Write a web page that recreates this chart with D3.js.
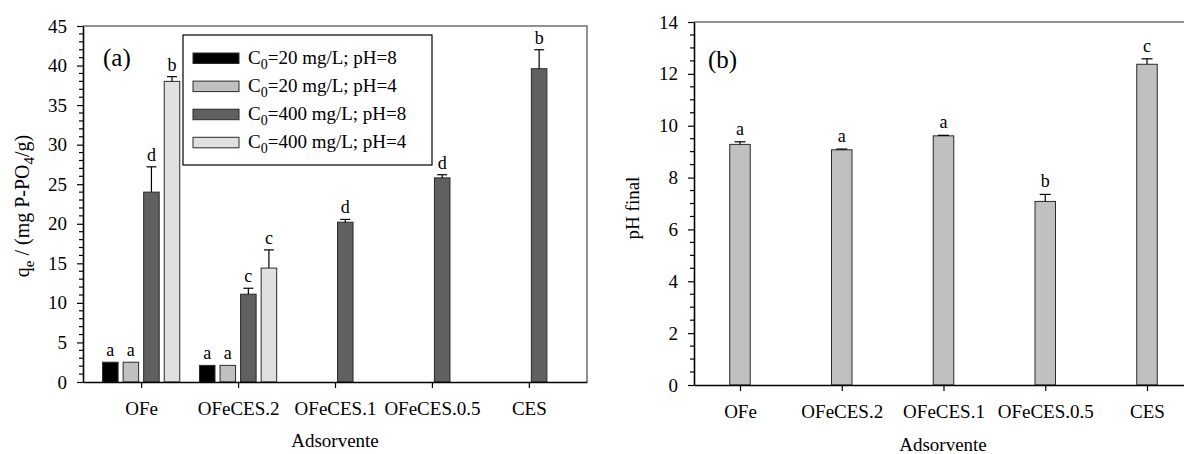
<!DOCTYPE html>
<html>
<head>
<meta charset="utf-8">
<script src="https://cdn.jsdelivr.net/npm/d3@7"></script>
<style>
  html, body { margin: 0; padding: 0; background: #fff; }
  svg { display: block; font-family: "Liberation Serif", "Times New Roman", serif; }
</style>
</head>
<body>
<svg id="fig" width="1184" height="454"></svg>
<script>
// Adsorbent materials (shared by both panels)
const categories = ["OFe", "OFeCES.2", "OFeCES.1", "OFeCES.0.5", "CES"];

// Panel (a): adsorption capacity qe (mg P-PO4/g), four test conditions
const seriesConc = [20, 20, 400, 400];
const seriesPH = [8, 4, 8, 4];
const qe20pH8 = [2.5, 2.1, null, null, null];
const qe20pH4 = [2.5, 2.1, null, null, null];
const qe400pH8 = [24.0, 11.1, 20.2, 25.8, 39.6];
const qe400pH4 = [38.0, 14.4, null, null, null];
const err20pH8 = [0, 0, null, null, null];
const err20pH4 = [0, 0, null, null, null];
const err400pH8 = [3.2, 0.75, 0.35, 0.4, 2.4];
const err400pH4 = [0.6, 2.3, null, null, null];
const let20pH8 = ["a", "a", null, null, null];
const let20pH4 = ["a", "a", null, null, null];
const let400pH8 = ["d", "c", "d", "d", "b"];
const let400pH4 = ["b", "c", null, null, null];
const seriesFill = ["#000000", "#c0c0c0", "#606060", "#e0e0e0"];

// Panel (b): final pH
const phFinal = [9.28, 9.07, 9.61, 7.08, 12.37];
const phErr = [0.1, 0.03, 0.02, 0.27, 0.21];
const phLetters = ["a", "a", "a", "b", "c"];

// Axis ticks
const qeTicks = [0, 5, 10, 15, 20, 25, 30, 35, 40, 45];
const phTicks = [0, 2, 4, 6, 8, 10, 12, 14];

const svg = d3.select("#fig");
const FS = 19;

function frame(g, x0, x1, y0, y1) {
  // top & right border in gray, axes in black
  g.append("path")
    .attr("d", `M${x0},${y1}H${x1}V${y0}`)
    .attr("fill", "none").attr("stroke", "#6e6e6e").attr("stroke-width", 1.5);
}

function yAxisDraw(g, y, x0, ticks, minorStep, domainMax) {
  const minor = d3.range(0, domainMax + 1e-9, minorStep).filter(v => !ticks.some(t => Math.abs(t - v) < 1e-9));
  g.append("g").selectAll("line").data(minor).join("line")
    .attr("x1", x0 - 4).attr("x2", x0).attr("y1", d => y(d)).attr("y2", d => y(d))
    .attr("stroke", "#000").attr("stroke-width", 1.2);
  const ax = g.append("g").attr("transform", `translate(${x0},0)`)
    .call(d3.axisLeft(y).tickValues(ticks).tickSize(6).tickPadding(10).tickSizeOuter(0));
  ax.select(".domain").attr("stroke", "#000").attr("stroke-width", 1.6);
  ax.selectAll(".tick line").attr("stroke", "#000").attr("stroke-width", 1.2);
  ax.selectAll(".tick text").attr("font-size", FS).attr("font-family", "Liberation Serif").attr("fill", "#000");
}

function xAxisDraw(g, x, y0) {
  const ax = g.append("g").attr("transform", `translate(0,${y0})`)
    .call(d3.axisBottom(x).tickSize(6).tickSizeOuter(0));
  ax.select(".domain").attr("stroke", "#000").attr("stroke-width", 1.6);
  ax.selectAll(".tick line").attr("stroke", "#000").attr("stroke-width", 1.2);
  ax.selectAll(".tick text").attr("font-size", FS).attr("font-family", "Liberation Serif")
    .attr("fill", "#000").attr("dy", null).attr("y", 33);
}

// ---------------- Panel (a) ----------------
{
  const L = 83, R = 587, T = 26, B = 382;
  const g = svg.append("g");
  const x = d3.scalePoint().domain(categories).range([L, R]).padding(0.6);
  const y = d3.scaleLinear().domain([0, 45]).range([B, T]);
  const values = [qe20pH8, qe20pH4, qe400pH8, qe400pH4];
  const errors = [err20pH8, err20pH4, err400pH8, err400pH4];
  const letters = [let20pH8, let20pH4, let400pH8, let400pH4];
  const sub = d3.scaleBand().domain(d3.range(4)).range([-38.6, 38.6]).paddingInner(0.245).paddingOuter(0);
  const bw = sub.bandwidth();

  frame(g, L, R, B, T);

  const rows = [];
  values.forEach((vals, s) => vals.forEach((v, i) => {
    if (v != null) rows.push({ s, cat: categories[i], v, e: errors[s][i], lab: letters[s][i] });
  }));

  g.append("g").selectAll("rect").data(rows).join("rect")
    .attr("x", d => x(d.cat) + sub(d.s))
    .attr("y", d => y(d.v))
    .attr("width", bw)
    .attr("height", d => y(0) - y(d.v))
    .attr("fill", d => seriesFill[d.s])
    .attr("stroke", "#2a2a2a").attr("stroke-width", 1);

  const eb = g.append("g").attr("stroke", "#000").attr("stroke-width", 1.2);
  rows.filter(d => d.e > 0).forEach(d => {
    const cx = x(d.cat) + sub(d.s) + bw / 2;
    eb.append("line").attr("x1", cx).attr("x2", cx).attr("y1", y(d.v)).attr("y2", y(d.v + d.e));
    eb.append("line").attr("x1", cx - 5).attr("x2", cx + 5).attr("y1", y(d.v + d.e)).attr("y2", y(d.v + d.e));
  });

  g.append("g").selectAll("text").data(rows.filter(d => d.lab)).join("text")
    .attr("x", d => x(d.cat) + sub(d.s) + bw / 2)
    .attr("y", d => y(d.v + (d.e || 0)) - 6)
    .attr("text-anchor", "middle").attr("font-size", 18)
    .text(d => d.lab);

  yAxisDraw(g, y, L, qeTicks, 1, 45);
  xAxisDraw(g, x, B);

  g.append("text").attr("x", 103).attr("y", 66).attr("font-size", 25).text("(a)");

  // y-axis title
  const yt = g.append("text").attr("transform", "translate(29,206) rotate(-90)")
    .attr("text-anchor", "middle").attr("font-size", 20);
  yt.append("tspan").text("q");
  yt.append("tspan").attr("font-size", 15).attr("dy", 5).text("e");
  yt.append("tspan").attr("dy", -5).text(" / (mg P-PO");
  yt.append("tspan").attr("font-size", 15).attr("dy", 5).text("4");
  yt.append("tspan").attr("dy", -5).text("/g)");

  g.append("text").attr("x", (L + R) / 2).attr("y", 447)
    .attr("text-anchor", "middle").attr("font-size", FS).text("Adsorvente");

  // legend
  const lg = g.append("g");
  lg.append("rect").attr("x", 183).attr("y", 35).attr("width", 249).attr("height", 130)
    .attr("fill", "#fff").attr("stroke", "#000").attr("stroke-width", 1.2);
  seriesFill.forEach((c, s) => {
    const cy = 58 + s * 28.1;
    lg.append("rect").attr("x", 193).attr("y", cy - 5).attr("width", 46).attr("height", 10.5)
      .attr("fill", c).attr("stroke", "#2a2a2a").attr("stroke-width", 1);
    const t = lg.append("text").attr("x", 248).attr("y", cy + 6).attr("font-size", FS);
    t.append("tspan").text("C");
    t.append("tspan").attr("font-size", 14).attr("dy", 5).text("0");
    t.append("tspan").attr("dy", -5).text(`=${seriesConc[s]} mg/L; pH=${seriesPH[s]}`);
  });
}

// ---------------- Panel (b) ----------------
{
  const L = 694, R = 1193, T = 22, B = 385;
  const g = svg.append("g");
  const x = d3.scalePoint().domain(categories).range([L, R]).padding(0.452);
  const y = d3.scaleLinear().domain([0, 14]).range([B, T]);
  const bw = 20.5;

  frame(g, L, R, B, T);

  const rows = categories.map((c, i) => ({ cat: c, v: phFinal[i], e: phErr[i], lab: phLetters[i] }));

  g.append("g").selectAll("rect").data(rows).join("rect")
    .attr("x", d => x(d.cat) - bw / 2)
    .attr("y", d => y(d.v))
    .attr("width", bw)
    .attr("height", d => y(0) - y(d.v))
    .attr("fill", "#c0c0c0")
    .attr("stroke", "#2a2a2a").attr("stroke-width", 1);

  const eb = g.append("g").attr("stroke", "#000").attr("stroke-width", 1.2);
  rows.forEach(d => {
    const cx = x(d.cat);
    eb.append("line").attr("x1", cx).attr("x2", cx).attr("y1", y(d.v)).attr("y2", y(d.v + d.e));
    eb.append("line").attr("x1", cx - 5.5).attr("x2", cx + 5.5).attr("y1", y(d.v + d.e)).attr("y2", y(d.v + d.e));
  });

  g.append("g").selectAll("text").data(rows).join("text")
    .attr("x", d => x(d.cat))
    .attr("y", d => y(d.v + d.e) - 7)
    .attr("text-anchor", "middle").attr("font-size", 18)
    .text(d => d.lab);

  yAxisDraw(g, y, L, phTicks, 0.5, 14);
  xAxisDraw(g, x, B);

  g.append("text").attr("x", 708).attr("y", 68).attr("font-size", 25).text("(b)");

  g.append("text").attr("transform", "translate(639,208) rotate(-90)")
    .attr("text-anchor", "middle").attr("font-size", FS).text("pH final");

  g.append("text").attr("x", 943).attr("y", 451)
    .attr("text-anchor", "middle").attr("font-size", FS).text("Adsorvente");
}
</script>
</body>
</html>
